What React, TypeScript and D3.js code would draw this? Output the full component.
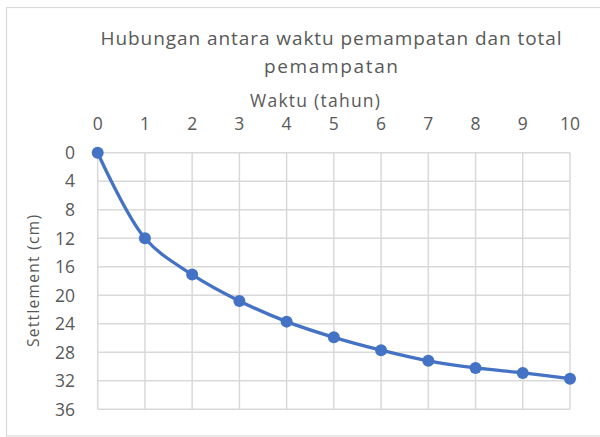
import React, { useRef, useEffect } from "react";
import * as d3 from "d3";

// Data
const years = [0, 1, 2, 3, 4, 5, 6, 7, 8, 9, 10];
const settlement = [0, 12, 17.1, 20.8, 23.7, 25.9, 27.7, 29.2, 30.2, 30.9, 31.7];
const xTicks = [0, 1, 2, 3, 4, 5, 6, 7, 8, 9, 10];
const yTicks = [0, 4, 8, 12, 16, 20, 24, 28, 32, 36];
const titleLines = ["Hubungan antara waktu pemampatan dan total", "pemampatan"];
const xLabel = "Waktu (tahun)";
const yLabel = "Settlement (cm)";

export default function App() {
  const svgRef = useRef<SVGSVGElement>(null);

  useEffect(() => {
    const svg = d3.select(svgRef.current);
    svg.selectAll("*").remove();

    const width = 600;
    const height = 437;
    const margin = { top: 152.7, right: 30, bottom: 27.7, left: 97.7 };
    const innerWidth = width - margin.left - margin.right;
    const innerHeight = height - margin.top - margin.bottom;
    const font = "'Open Sans', sans-serif";
    const textColor = "#595959";
    const gridColor = "#d9d9d9";
    const lineColor = "#4472c4";

    const x = d3.scaleLinear().domain([0, 10]).range([0, innerWidth]);
    const y = d3.scaleLinear().domain([0, 36]).range([0, innerHeight]);

    // chart frame
    svg
      .append("rect")
      .attr("x", 6.5)
      .attr("y", 7.5)
      .attr("width", 600)
      .attr("height", 428.5)
      .attr("fill", "white")
      .attr("stroke", gridColor)
      .attr("stroke-width", 1.2);

    // title
    const titleX = 331;
    const titleLens = [461, 134];
    titleLines.forEach((line, i) => {
      svg
        .append("text")
        .attr("x", titleX)
        .attr("y", 45 + i * 28)
        .attr("text-anchor", "middle")
        .attr("font-family", font)
        .attr("font-size", 19)
        .attr("fill", textColor)
        .attr("textLength", titleLens[i])
        .attr("lengthAdjust", "spacing")
        .text(line);
    });

    const g = svg
      .append("g")
      .attr("transform", `translate(${margin.left}, ${margin.top})`);

    // gridlines
    g.selectAll(".vgrid")
      .data(xTicks)
      .enter()
      .append("line")
      .attr("x1", (d) => x(d))
      .attr("x2", (d) => x(d))
      .attr("y1", 0)
      .attr("y2", innerHeight)
      .attr("stroke", gridColor)
      .attr("stroke-width", 1.5);

    g.selectAll(".hgrid")
      .data(yTicks)
      .enter()
      .append("line")
      .attr("x1", 0)
      .attr("x2", innerWidth)
      .attr("y1", (d) => y(d))
      .attr("y2", (d) => y(d))
      .attr("stroke", gridColor)
      .attr("stroke-width", 1.5);

    // x tick labels (axis on top)
    g.selectAll(".xtick")
      .data(xTicks)
      .enter()
      .append("text")
      .attr("x", (d) => x(d))
      .attr("y", -22.7)
      .attr("text-anchor", "middle")
      .attr("font-family", font)
      .attr("font-size", 17.5)
      .attr("fill", textColor)
      .text((d) => d);

    // y tick labels
    g.selectAll(".ytick")
      .data(yTicks)
      .enter()
      .append("text")
      .attr("x", -22.7)
      .attr("y", (d) => y(d))
      .attr("dy", "0.36em")
      .attr("text-anchor", "end")
      .attr("font-family", font)
      .attr("font-size", 17.5)
      .attr("fill", textColor)
      .text((d) => d);

    // axis titles
    svg
      .append("text")
      .attr("x", 315)
      .attr("y", 107)
      .attr("text-anchor", "middle")
      .attr("font-family", font)
      .attr("font-size", 17.5)
      .attr("fill", textColor)
      .attr("textLength", 130)
      .attr("lengthAdjust", "spacing")
      .text(xLabel);

    svg
      .append("text")
      .attr("transform", `translate(39, 281) rotate(-90)`)
      .attr("text-anchor", "middle")
      .attr("font-family", font)
      .attr("font-size", 15.5)
      .attr("fill", textColor)
      .attr("textLength", 132)
      .attr("lengthAdjust", "spacing")
      .text(yLabel);

    // series
    const pts = years.map((t, i) => [t, settlement[i]] as [number, number]);
    const line = d3
      .line<[number, number]>()
      .x((d) => x(d[0]))
      .y((d) => y(d[1]))
      .curve(d3.curveCatmullRom.alpha(0.5));

    g.append("path")
      .datum(pts)
      .attr("d", line)
      .attr("fill", "none")
      .attr("stroke", lineColor)
      .attr("stroke-width", 3.3)
      .attr("stroke-linejoin", "round");

    g.selectAll(".pt")
      .data(pts)
      .enter()
      .append("circle")
      .attr("cx", (d) => x(d[0]))
      .attr("cy", (d) => y(d[1]))
      .attr("r", 6)
      .attr("fill", lineColor);
  }, []);

  return (
    <svg
      ref={svgRef}
      width={600}
      height={437}
      style={{ position: "absolute", left: 0, top: 0 }}
    ></svg>
  );
}
